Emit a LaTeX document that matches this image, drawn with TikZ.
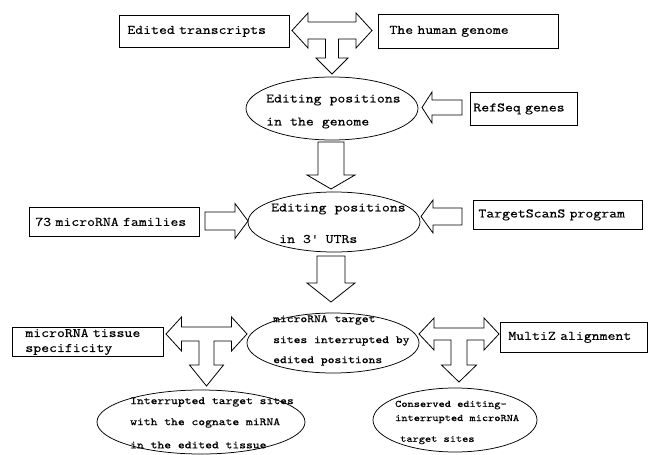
\documentclass[tikz,border=0pt]{standalone}
\usepackage{fontspec}
\setmonofont[FakeStretch=1.18, FakeBold=0.4]{Latin Modern Mono}
\usetikzlibrary{shapes.geometric}
\newcommand\monoface[2]{\ttfamily\fontsize{#1}{#2}\selectfont\spaceskip=0.62em\relax}
\tikzset{
  box/.style={draw, line width=0.8pt, rectangle, inner ysep=0pt, anchor=north west, align=left,
    font=\monoface{13}{15}},
  ell/.style={draw, line width=0.75pt, ellipse, inner sep=0pt},
  lbl/.style={anchor=west, inner sep=0pt, font=\monoface{13}{15}},
  lbls/.style={anchor=west, inner sep=0pt, font=\monoface{11}{13}},
  lblxs/.style={anchor=west, inner sep=0pt, font=\monoface{10}{12}},
  fat/.style={draw, line width=0.8pt, line join=miter},
}
\begin{document}
\begin{tikzpicture}[x=1pt, y=-1pt]
\useasboundingbox (0,0) rectangle (648,455);

% boxes
\node[box, minimum width=170pt, minimum height=32pt, inner xsep=8pt, text width=154pt] (b1) at (119,15) {Edited transcripts};
\node[box, minimum width=180pt, minimum height=34pt, inner xsep=11pt, text width=158pt] (b2) at (378,14) {The human genome};
\node[box, minimum width=107pt, minimum height=33pt, inner xsep=3pt, text width=101pt] (b3) at (470,92) {RefSeq genes};
\node[box, minimum width=170pt, minimum height=29pt, inner xsep=6pt, text width=158pt] (b4) at (29,207) {73 microRNA families};
\node[box, minimum width=169pt, minimum height=29pt, inner xsep=5pt, text width=159pt] (b5) at (473,200) {TargetScanS program};
\node[box, minimum width=151pt, minimum height=29pt, inner xsep=13pt, text width=125pt] (b6) at (12,327) {microRNA tissue\\specificity};
\node[box, minimum width=147pt, minimum height=30pt, inner xsep=8pt, text width=131pt] (b7) at (500,322) {MultiZ alignment};

% ellipses
\node[ell, minimum width=172pt, minimum height=63pt] (e1) at (332,108.5) {};
\node[ell, minimum width=172pt, minimum height=60pt] (e2) at (334,222) {};
\node[ell, minimum width=172pt, minimum height=60pt] (e3) at (333,343) {};
\node[ell, minimum width=208pt, minimum height=64pt] (e4) at (201,422) {};
\node[ell, minimum width=164pt, minimum height=64pt] (e5) at (455,420) {};

% ellipse texts
\node[lbl] (t1a) at (266,100) {Editing positions};
\node[lbl] (t1b) at (266,123) {in the genome};
\node[lbl] (t2a) at (271,209) {Editing positions};
\node[lbl] (t2b) at (279,239) {in 3\textquotesingle\ UTRs};
\node[lbls] (t3a) at (273,320) {microRNA target};
\node[lbls] (t3b) at (273,341) {sites interrupted by};
\node[lbls] (t3c) at (273,361) {edited positions};
\node[lbls] (t4a) at (130,402) {Interrupted target sites};
\node[lbls] (t4b) at (130,423) {with the cognate miRNA};
\node[lbls] (t4c) at (130,445) {in the edited tissue};
\node[lblxs] (t5a) at (395,405) {Conserved editing-};
\node[lblxs] (t5b) at (395,419) {interrupted microRNA};
\node[lblxs] (t5c) at (400,440) {target sites};

% T-arrow at top
\draw[fat] (292,30.5) -- (308,13) -- (308,22) -- (356,22) -- (356,13) -- (372,30.5) -- (356,48) -- (356,39)
  -- (338.5,39) -- (338.5,58) -- (348,58) -- (332,74) -- (316,58) -- (325.5,58) -- (325.5,39)
  -- (308,39) -- (308,48) -- cycle;

% RefSeq arrow
\draw[fat] (422,107.5) -- (432,92) -- (432,100) -- (462,100) -- (462,115) -- (432,115) -- (432,123) -- cycle;

% down arrow 2
\draw[fat] (318,142) -- (344,142) -- (344,175) -- (355,175) -- (331,189) -- (307,175) -- (318,175) -- cycle;

% 73 arrow
\draw[fat] (205,212) -- (235,212) -- (235,203.5) -- (248,221) -- (235,238.5) -- (235,230) -- (205,230) -- cycle;

% TargetScanS arrow
\draw[fat] (421,216.5) -- (433,200) -- (433,208) -- (462,208) -- (462,225) -- (433,225) -- (433,233) -- cycle;

% down arrow 3
\draw[fat] (317,256) -- (345,256) -- (345,283) -- (355,283) -- (331,302) -- (307,283) -- (317,283) -- cycle;

% left T-arrow
\draw[fat] (166,334) -- (181.5,317) -- (181.5,327) -- (231.5,327) -- (231.5,317) -- (247,334) -- (231.5,351) -- (231.5,341)
  -- (214,341) -- (214,365) -- (223.5,365) -- (206.5,386) -- (189.5,365) -- (199,365) -- (199,341)
  -- (181.5,341) -- (181.5,351) -- cycle;

% right T-arrow
\draw[fat] (419,334) -- (434,318) -- (434,328) -- (484,328) -- (484,318) -- (499,334) -- (484,350) -- (484,340)
  -- (467,340) -- (467,365) -- (476.5,365) -- (459,382) -- (441.5,365) -- (451,365) -- (451,340)
  -- (434,340) -- (434,350) -- cycle;
\end{tikzpicture}
\end{document}
